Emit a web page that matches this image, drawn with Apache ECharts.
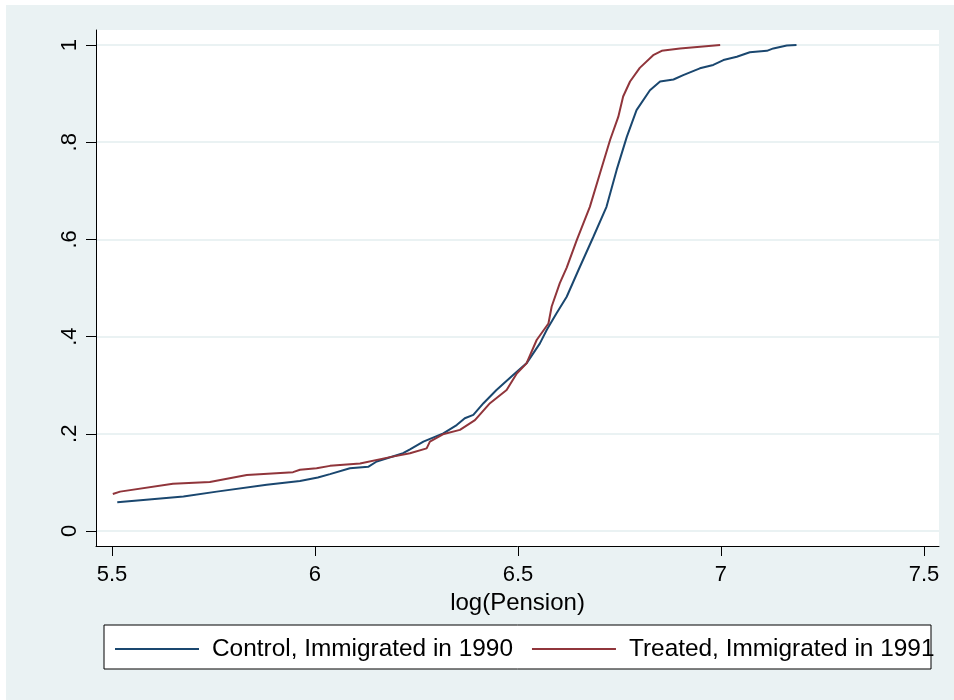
<!DOCTYPE html>
<html>
<head>
<meta charset="utf-8">
<script src="https://cdn.jsdelivr.net/npm/echarts@6/dist/echarts.min.js"></script>
<style>
  html, body { margin: 0; padding: 0; background: #ffffff; }
  #chart { position: absolute; left: 6px; top: 5px; width: 948px; height: 695px; }
</style>
</head>
<body>
<div id="chart"></div>
<script>
// Empirical CDFs of log(Pension), read as (x, cumulative share) points
const controlX = [5.513, 5.577, 5.676, 5.758, 5.881, 5.963, 6.007, 6.037, 6.086, 6.131, 6.152, 6.217, 6.234, 6.267, 6.316, 6.349, 6.369, 6.390, 6.415, 6.447, 6.488, 6.521, 6.554, 6.571, 6.595, 6.620, 6.649, 6.686, 6.718, 6.743, 6.768, 6.792, 6.825, 6.850, 6.883, 6.907, 6.948, 6.981, 7.006, 7.039, 7.071, 7.113, 7.129, 7.162, 7.186];
const controlY = [0.059, 0.064, 0.071, 0.081, 0.095, 0.103, 0.110, 0.117, 0.129, 0.132, 0.143, 0.160, 0.168, 0.184, 0.201, 0.218, 0.232, 0.239, 0.263, 0.290, 0.321, 0.345, 0.386, 0.414, 0.448, 0.482, 0.537, 0.606, 0.667, 0.743, 0.811, 0.866, 0.907, 0.925, 0.929, 0.938, 0.952, 0.959, 0.969, 0.976, 0.985, 0.988, 0.993, 0.999, 1.000];

const treatedX = [5.502, 5.520, 5.650, 5.741, 5.832, 5.946, 5.963, 6.004, 6.037, 6.111, 6.185, 6.234, 6.275, 6.283, 6.315, 6.357, 6.394, 6.431, 6.472, 6.497, 6.521, 6.546, 6.575, 6.583, 6.603, 6.620, 6.645, 6.677, 6.702, 6.727, 6.747, 6.759, 6.776, 6.800, 6.833, 6.854, 6.899, 6.998];
const treatedY = [0.076, 0.081, 0.097, 0.101, 0.115, 0.121, 0.126, 0.129, 0.134, 0.139, 0.152, 0.160, 0.170, 0.184, 0.199, 0.208, 0.228, 0.263, 0.290, 0.324, 0.345, 0.393, 0.427, 0.462, 0.510, 0.542, 0.599, 0.667, 0.736, 0.805, 0.852, 0.894, 0.925, 0.953, 0.979, 0.988, 0.993, 1.000];

const seriesNames = ['Control, Immigrated in 1990', 'Treated, Immigrated in 1991'];
const xTicks = [5.5, 6, 6.5, 7, 7.5];
const yTicks = [0, 0.2, 0.4, 0.6, 0.8, 1];
const xTitle = 'log(Pension)';

const FONT = 'Liberation Sans, Arial, Helvetica, sans-serif';
const pairs = (xs, ys) => xs.map((x, i) => [x, ys[i]]);
const yLabel = v => (v === 0 ? '0' : v === 1 ? '1' : String(v).replace(/^0/, ''));

const chart = echarts.init(document.getElementById('chart'), null, { renderer: 'canvas' });
chart.setOption({
  backgroundColor: '#eaf2f3',
  animation: false,
  grid: {
    left: 90, top: 25, right: 15, bottom: 154,
    show: true, backgroundColor: '#ffffff', borderWidth: 0
  },
  xAxis: {
    type: 'value',
    min: 5.4606, max: 7.537,
    name: xTitle,
    nameLocation: 'middle',
    nameGap: 38,
    nameTextStyle: { fontFamily: FONT, fontSize: 24, color: '#000' },
    axisLine: { show: true, onZero: false, lineStyle: { color: '#000', width: 1 } },
    axisTick: { show: true, length: 10, customValues: xTicks, lineStyle: { color: '#000' } },
    axisLabel: {
      customValues: xTicks, margin: 18,
      fontFamily: FONT, fontSize: 22, color: '#000',
      formatter: v => String(v)
    },
    splitLine: { show: false }
  },
  yAxis: {
    type: 'value',
    min: -0.0309, max: 1.0309,
    axisLine: { show: true, onZero: false, lineStyle: { color: '#000', width: 1 } },
    axisTick: { show: true, length: 10, customValues: yTicks, lineStyle: { color: '#000' } },
    axisLabel: {
      customValues: yTicks, rotate: 90, margin: 15,
      fontFamily: FONT, fontSize: 22, color: '#000',
      formatter: yLabel
    },
    splitLine: { show: true, lineStyle: { color: '#eaf2f3', width: 2 } }
  },
  legend: {
    left: 109, top: 632,
    padding: 0,
    itemWidth: 84, itemHeight: 2, itemGap: 19,
    icon: 'rect',
    textStyle: { fontFamily: FONT, fontSize: 24.4, color: '#000', padding: [0, 0, 0, 8] },
    data: seriesNames
  },
  graphic: [{
    type: 'rect',
    z: -1,
    shape: { x: 98, y: 620, width: 827, height: 44 },
    style: { fill: '#ffffff', stroke: '#000', lineWidth: 1 }
  }],
  series: [
    {
      name: seriesNames[0], type: 'line',
      data: pairs(controlX, controlY),
      showSymbol: false, symbol: 'none',
      lineStyle: { color: '#1a476f', width: 2 },
      itemStyle: { color: '#1a476f' }
    },
    {
      name: seriesNames[1], type: 'line',
      data: pairs(treatedX, treatedY),
      showSymbol: false, symbol: 'none',
      lineStyle: { color: '#90353b', width: 2 },
      itemStyle: { color: '#90353b' }
    }
  ]
});
</script>
</body>
</html>
